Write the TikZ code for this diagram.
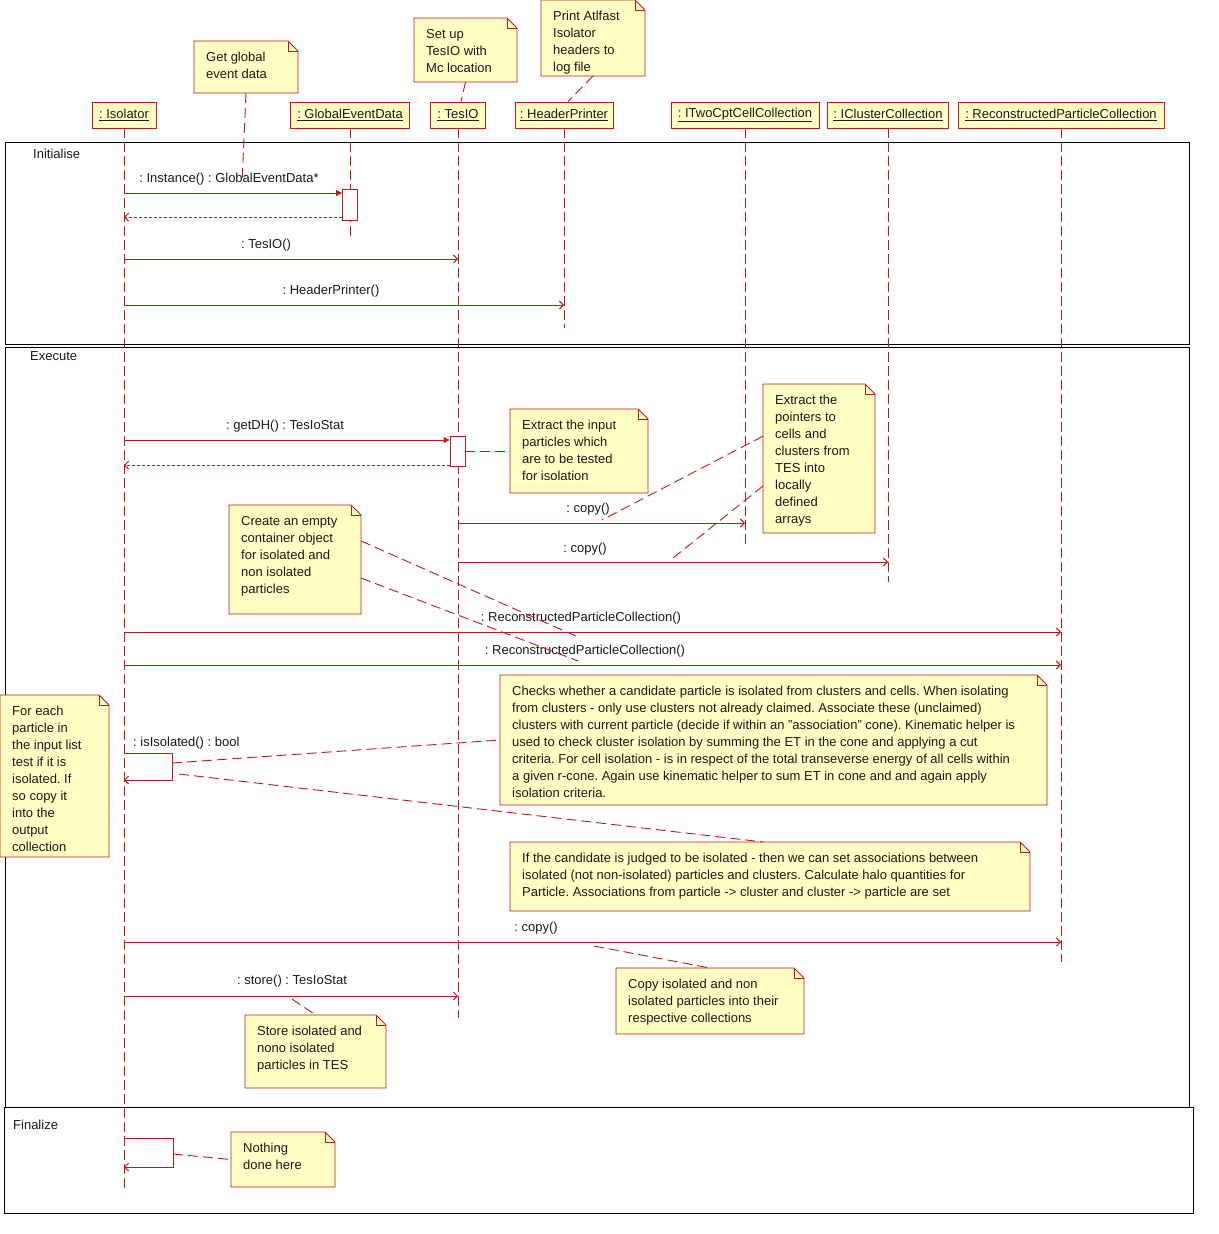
\documentclass[tikz,border=0pt]{standalone}
\usepackage{fontspec}
\setmainfont{Liberation Sans}
\usetikzlibrary{arrows.meta,calc}
\definecolor{umlred}{RGB}{196,24,24}
\definecolor{noteyellow}{RGB}{255,255,196}
\definecolor{ink}{RGB}{25,25,25}
\pgfdeclarelayer{back}
\pgfdeclarelayer{notebg}
\pgfsetlayers{back,notebg,main}
\frenchspacing
\tikzset{
  objbox/.style={draw=umlred, fill=noteyellow, line width=0.9pt, minimum height=26pt, inner sep=0pt, text=ink, font=\fontsize{13}{15}\selectfont},
  lifel/.style={draw=umlred, line width=0.9pt, dash pattern=on 10pt off 4pt},
  frm/.style={draw=black, line width=0.9pt},
  msgarrow/.style={draw=umlred, line width=0.9pt, -{Straight Barb[length=4pt,width=8pt]}},
  callarrow/.style={draw=umlred, line width=0.9pt, -{Triangle[length=6pt,width=6pt]}},
  retarrow/.style={draw=umlred, line width=0.9pt, dash pattern=on 3pt off 2pt, -{Straight Barb[length=4pt,width=8pt]}},
  noteline/.style={draw=umlred, line width=0.9pt, dash pattern=on 10pt off 5pt},
  actbox/.style={draw=umlred, fill=white, line width=0.9pt, inner sep=0pt, minimum width=15pt},
  notebox/.style={inner sep=0pt, outer sep=0pt, anchor=north west},
  notefrm/.style={draw=umlred, fill=noteyellow, line width=0.9pt},
  notetext/.style={inner sep=0pt, anchor=north west, align=left, text=ink, font=\fontsize{13}{17}\selectfont},
  msglabel/.style={inner sep=0pt, text=ink, font=\fontsize{13}{15}\selectfont},
  framelabel/.style={inner sep=0pt, anchor=west, text=ink, font=\fontsize{13}{15}\selectfont},
}
\newcommand\umlnote[6]{%
  \node[notebox, minimum width=#4pt-#2pt, minimum height=#5pt-#3pt] (#1) at (#2,#3) {};
  \begin{pgfonlayer}{notebg}
    \path[notefrm] (#1.north west) -- ([xshift=-10pt]#1.north east) -- ([yshift=-10pt]#1.north east) -- (#1.south east) -- (#1.south west) -- cycle;
    \draw[umlred, line width=0.9pt] ([xshift=-10pt]#1.north east) -- ([xshift=-10pt,yshift=-10pt]#1.north east) -- ([yshift=-10pt]#1.north east);
  \end{pgfonlayer}
  \node[notetext] (#1-txt) at ([xshift=12pt,yshift=-11pt]#1.north west) {#6};
}
\begin{document}
\begin{tikzpicture}[x=1pt,y=-1pt]
\begin{pgfonlayer}{back}
  \fill[white] (0,0) rectangle (1218,1234);
  \draw[frm] (5,142) rectangle (1189,344);
  \draw[frm] (5,347) rectangle (1189,1107);
  \draw[frm] (4,1107) rectangle (1193,1213);
\end{pgfonlayer}
\useasboundingbox (0,0) rectangle (1218,1234);

% frame labels
\node[framelabel] (fInit) at (33,154) {Initialise};
\node[framelabel] (fExec) at (30,356) {Execute};
\node[framelabel] (fFin) at (13,1125) {Finalize};

% objects
\node[objbox, minimum width=64pt] (iso) at (124,115) {\underline{: Isolator}};
\node[objbox, minimum width=119pt] (ged) at (350,115) {\underline{: GlobalEventData}};
\node[objbox, minimum width=55pt] (tes) at (458,115) {\underline{: TesIO}};
\node[objbox, minimum width=98pt] (hp) at (564,115) {\underline{: HeaderPrinter}};
\node[objbox, minimum width=148pt] (two) at (745,115) {\underline{: ITwoCptCellCollection}};
\node[objbox, minimum width=121pt] (clu) at (888,115) {\underline{: IClusterCollection}};
\node[objbox, minimum width=206pt] (rpc) at (1061,115) {\underline{: ReconstructedParticleCollection}};

% lifelines
\coordinate (isoEnd) at (124,1190);
\coordinate (gedEnd) at (350,240);
\coordinate (tesEnd) at (458,1018);
\coordinate (hpEnd) at (564,328);
\coordinate (twoEnd) at (745,546);
\coordinate (cluEnd) at (888,582);
\coordinate (rpcEnd) at (1061,962);
\draw[lifel] (iso.south) -- (isoEnd);
\draw[lifel] (ged.south) -- (gedEnd);
\draw[lifel] (tes.south) -- (tesEnd);
\draw[lifel] (hp.south) -- (hpEnd);
\draw[lifel] (two.south) -- (twoEnd);
\draw[lifel] (clu.south) -- (cluEnd);
\draw[lifel] (rpc.south) -- (rpcEnd);

% ---------- Initialise ----------
\coordinate (m1a) at (124,193);
\node[actbox, minimum height=31pt] (act1) at (350,204.5) {};
\draw[callarrow] (m1a) -- (m1a -| act1.west);
\node[msglabel] (l1) at (229,179) {: Instance() : GlobalEventData*};
\coordinate (r1b) at (124,217);
\draw[retarrow] (r1b -| act1.west) -- (r1b);

\coordinate (m2a) at (124,259);
\draw[msgarrow] (m2a) -- (m2a -| tes);
\node[msglabel] (l2) at (266,245) {: TesIO()};

\coordinate (m3a) at (124,305);
\draw[msgarrow] (m3a) -- (m3a -| hp);
\node[msglabel] (l3) at (331,291) {: HeaderPrinter()};

% ---------- Execute ----------
\coordinate (m4a) at (124,440);
\node[actbox, minimum height=30pt] (act2) at (457.5,451) {};
\draw[callarrow] (m4a) -- (m4a -| act2.west);
\node[msglabel] (l4) at (285,426) {: getDH() : TesIoStat};
\coordinate (r4b) at (124,465);
\draw[retarrow] (r4b -| act2.west) -- (r4b);

\coordinate (m5a) at (458,523);
\draw[msgarrow] (m5a) -- (m5a -| two);
\node[msglabel] (l5) at (588,509) {: copy()};

\coordinate (m6a) at (458,562);
\draw[msgarrow] (m6a) -- (m6a -| clu);
\node[msglabel] (l6) at (585,549) {: copy()};

\coordinate (m7a) at (124,632);
\draw[msgarrow] (m7a) -- (m7a -| rpc);
\node[msglabel] (l7) at (581,618) {: ReconstructedParticleCollection()};

\coordinate (m8a) at (124,665);
\draw[msgarrow] (m8a) -- (m8a -| rpc);
\node[msglabel] (l8) at (585,651) {: ReconstructedParticleCollection()};

\coordinate (s1a) at (124,753);
\coordinate (s1b) at (124,780);
\draw[msgarrow] (s1a) -- ++(48,0) |- (s1b);
\node[msglabel, anchor=west] (l9) at (133,743) {: isIsolated() : bool};

\coordinate (m10a) at (124,942);
\draw[msgarrow] (m10a) -- (m10a -| rpc);
\node[msglabel] (l10) at (536,928) {: copy()};

\coordinate (m11a) at (124,996);
\draw[msgarrow] (m11a) -- (m11a -| tes);
\node[msglabel] (l11) at (292,981) {: store() : TesIoStat};

% ---------- Finalize ----------
\coordinate (s2a) at (124,1138);
\coordinate (s2b) at (124,1167);
\draw[msgarrow] (s2a) -- ++(49,0) |- (s2b);

% ---------- notes ----------
\umlnote{ngg}{194}{41}{298}{93}{Get global\\event data}
\umlnote{nsu}{414}{18}{517}{82}{Set up\\TesIO with\\Mc location}
\umlnote{npr}{541}{0}{645}{76}{Print Atlfast\\Isolator\\headers to\\log file}
\umlnote{nex}{510}{409}{648}{493}{Extract the input\\particles which\\are to be tested\\for isolation}
\umlnote{npt}{763}{384}{875}{533}{Extract the\\pointers to\\cells and\\clusters from\\TES into\\locally\\defined\\arrays}
\umlnote{ncr}{229}{505}{361}{614}{Create an empty\\container object\\for isolated and\\non isolated\\particles}
\umlnote{nfe}{0}{695}{109}{857}{For each\\particle in\\the input list\\test if it is\\isolated. If\\so copy it\\into the\\output\\collection}
\umlnote{nb1}{500}{675}{1047}{805}{Checks whether a candidate particle is isolated from clusters and cells. When isolating\\from clusters - only use clusters not already claimed. Associate these (unclaimed)\\clusters with current particle (decide if within an \symbol{34}association\symbol{34} cone). Kinematic helper is\\used to check cluster isolation by summing the ET in the cone and applying a cut\\criteria. For cell isolation - is in respect of the total transeverse energy of all cells within\\a given r-cone. Again use kinematic helper to sum ET in cone and and again apply\\isolation criteria.}
\umlnote{nb2}{510}{842}{1030}{911}{If the candidate is judged to be isolated - then we can set associations between\\isolated (not non-isolated) particles and clusters. Calculate halo quantities for\\Particle. Associations from particle -> cluster and cluster -> particle are set}
\umlnote{nci}{616}{968}{804}{1034}{Copy isolated and non\\isolated particles into their\\respective collections}
\umlnote{nst}{245}{1015}{386}{1088}{Store isolated and\\nono isolated\\particles in TES}
\umlnote{nnd}{231}{1132}{335}{1187}{Nothing\\done here}

% ---------- note anchors ----------
\coordinate (aGG) at (242,184);
\draw[noteline] (ngg.south) -- (aGG);
\draw[noteline] (nsu.south) -- ([xshift=3pt]tes.north);
\draw[noteline] (npr.south) -- ([xshift=4pt]hp.north);
\draw[noteline] (act2.east) -- (nex.west);
\coordinate (aPT1) at (602,520);
\coordinate (aPT2) at (673,558);
\draw[noteline] ($(npt.north west)!0.35!(npt.south west)$) -- (aPT1);
\draw[noteline] ($(npt.north west)!0.685!(npt.south west)$) -- (aPT2);
\coordinate (aCR1) at (578,637);
\coordinate (aCR2) at (578,661);
\draw[noteline] ($(ncr.north east)!0.33!(ncr.south east)$) -- (aCR1);
\draw[noteline] ($(ncr.north east)!0.67!(ncr.south east)$) -- (aCR2);
\coordinate (aS1a) at (172,763);
\coordinate (aS1b) at (179,774);
\draw[noteline] (aS1a) -- (nb1.west);
\draw[noteline] (aS1b) -- ($(nb2.north west)!0.487!(nb2.north east)$);
\coordinate (aCI) at (594,946);
\draw[noteline] (aCI) -- ($(nci.north west)!0.5!(nci.north east)$);
\coordinate (aST) at (292,999);
\draw[noteline] (aST) -- (nst.north);
\coordinate (aND) at (173,1154);
\draw[noteline] (aND) -- (nnd.west);
\end{tikzpicture}
\end{document}
